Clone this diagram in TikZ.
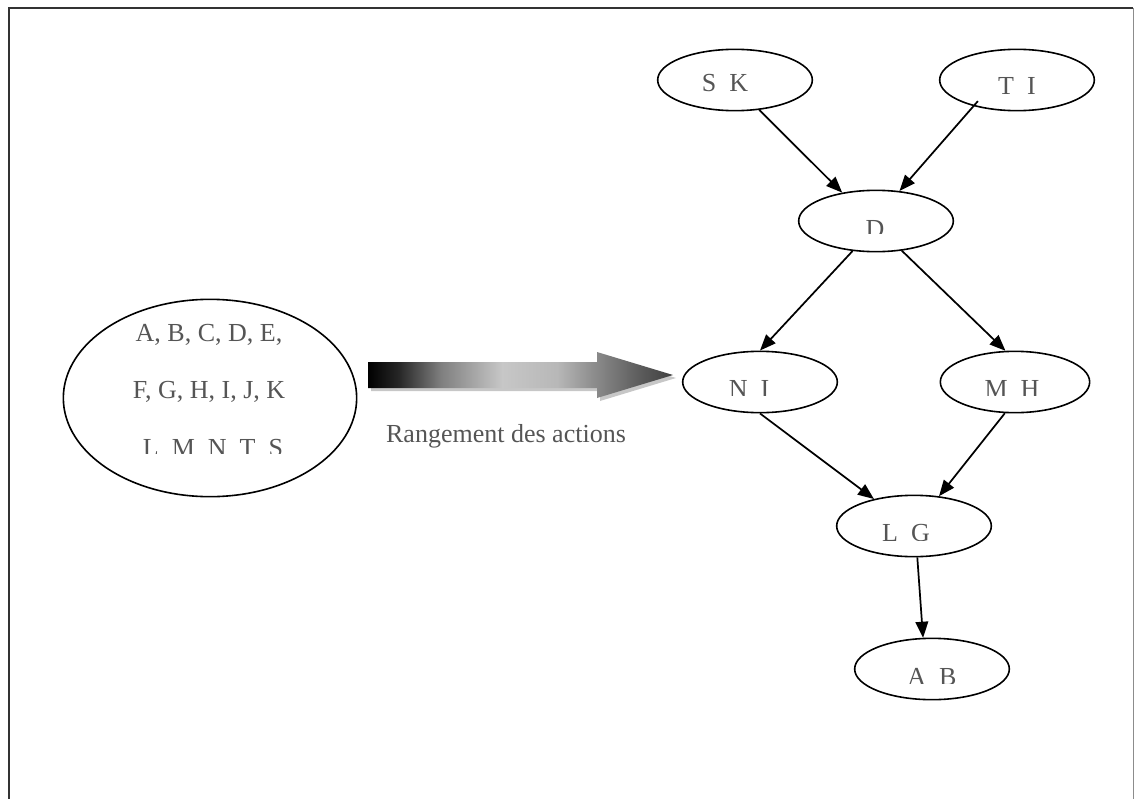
\documentclass[tikz,border=0pt]{standalone}
\usepackage{fontspec}
\setmainfont{Liberation Serif}
\usetikzlibrary{arrows.meta,shapes.geometric}

\definecolor{inkgray}{RGB}{85,85,85}

% grey-to-black gradient of the block arrow, left to right
\pgfdeclarehorizontalshading{rangeshade}{100bp}{%
  color(0bp)=(black); color(25bp)=(black); color(30bp)=(black!85);
  color(37bp)=(black!50); color(47bp)=(black!22); color(56bp)=(black!28);
  color(62bp)=(black!45); color(70bp)=(black!65); color(75bp)=(black!75);
  color(100bp)=(black!75)}

% a text whose lower part is cut off at a given height
% #1 name, #2 x, #3 baseline y, #4 cut y, #5 text
\newcommand\cuttext[5]{%
  \begin{scope}
    \clip (#2-200,#3-60) rectangle (#2+200,#4);
    \node[txt,anchor=base] (#1) at (#2,#3) {#5};
  \end{scope}}

\begin{document}
\begin{tikzpicture}[x=0.75pt,y=-0.75pt,
  txt/.style={inner sep=0pt,text=inkgray,font=\fontsize{19.5}{23}\selectfont},
  state/.style={draw,ellipse,line width=1.2pt,inner sep=0pt,
                minimum width=116pt,minimum height=46pt},
  link/.style={line width=1.3pt,-{Triangle[length=12pt,width=9.5pt]}}]
\useasboundingbox (0,0) rectangle (1135,799);

% frame
\draw[line width=2pt,black!80] (9,799) -- (9,8) -- (1133,8);
\draw[line width=0.6pt,black!45] (1133,8) -- (1133,799);

% set of actions
\node[draw,ellipse,line width=1.2pt,inner sep=0pt,
      minimum width=220pt,minimum height=148pt] (pool) at (210,398) {};
\node[txt,anchor=base] (row1) at (209,341) {A, B, C, D, E,};
\node[txt,anchor=base] (row2) at (209,398) {F, G, H, I, J, K};
\cuttext{row3}{213}{456}{453}{L\hspace{0.5em}M\hspace{0.5em}N\hspace{0.5em}T\hspace{0.5em}S}

% block arrow with its shadow
\fill[black!22] (371,365) -- (600,365) -- (600,355) -- (676,378) -- (600,401)
  -- (600,391) -- (371,391) -- cycle;
\shade[shading=rangeshade] (368,362) -- (597,362) -- (597,352) -- (673,375)
  -- (597,398) -- (597,388) -- (368,388) -- cycle;
\node[txt,anchor=base] (caption) at (506,442) {Rangement des actions};

% ranking graph
\node[state] (sk) at (735,80) {};
\node[state] (ti) at (1017,80) {};
\node[state] (d)  at (876,221) {};
\node[state] (ni) at (760,382) {};
\node[state,minimum width=112pt] (mh) at (1015,382) {};
\node[state] (lg) at (914,526) {};
\node[state] (ab) at (932,669) {};

\node[txt,anchor=base] (skt) at (725,92) {S\hspace{0.5em}K};
\node[txt,anchor=base] (tit) at (1017,94) {T\hspace{0.5em}I};
\cuttext{dt}{875}{237}{233}{D}
\cuttext{nit}{749}{397}{395}{N\hspace{0.5em}I}
\cuttext{mht}{1012}{397}{395}{M\hspace{0.5em}H}
\cuttext{lgt}{906}{541}{540}{L\hspace{0.5em}G}
\cuttext{abt}{932}{685}{683}{A\hspace{0.5em}B}

\draw[link] (sk.-51) -- (d.140);
\draw[link,shorten <=-5pt] (ti.211) -- (d.52);
\draw[link] (d.232) -- (ni.north);
\draw[link] (d.-49) -- (mh.107);
\draw[link] (ni.south) -- (lg.146);
\draw[link] (mh.252) -- (lg.50);
\draw[link] (lg.276) -- (ab.106);
\end{tikzpicture}
\end{document}
